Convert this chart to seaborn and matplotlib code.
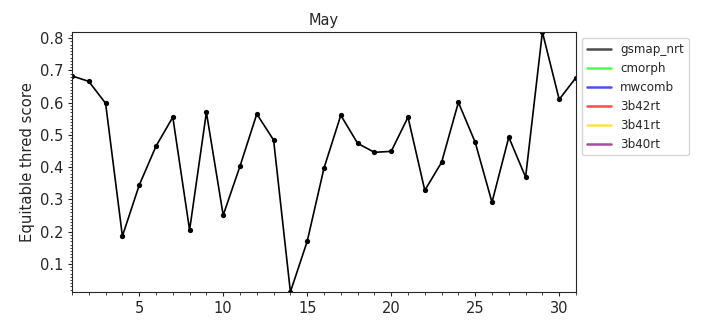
import matplotlib
matplotlib.use("Agg")
import matplotlib.pyplot as plt
import seaborn as sns
import pandas as pd
from matplotlib.ticker import MultipleLocator

days = list(range(1, 32))
gsmap_nrt = [0.683, 0.666, 0.598, 0.186, 0.344, 0.465, 0.555, 0.205, 0.570, 0.251,
             0.403, 0.565, 0.484, 0.013, 0.170, 0.397, 0.561, 0.474, 0.446, 0.449,
             0.555, 0.328, 0.415, 0.601, 0.477, 0.291, 0.493, 0.369, 0.819, 0.610, 0.678]
series_names = ["gsmap_nrt", "cmorph", "mwcomb", "3b42rt", "3b41rt", "3b40rt"]
series_colors = ["black", "lime", "blue", "red", "gold", "purple"]
empty_series = {"cmorph": [], "mwcomb": [], "3b42rt": [], "3b41rt": [], "3b40rt": []}

sns.set_style("ticks")
plt.rcParams['font.family'] = ['DejaVu Sans']

fig = plt.figure(figsize=(7.2, 3.24), dpi=100)
ax = fig.add_axes([0.1, 0.099, 0.7, 0.802])

df = pd.DataFrame({"day": days, "ets": gsmap_nrt})
sns.lineplot(data=df, x="day", y="ets", ax=ax, color="black", marker="o",
             markersize=3.8, markeredgewidth=0, linewidth=1.2, label="gsmap_nrt")
for name, col in zip(series_names[1:], series_colors[1:]):
    ax.plot(empty_series[name], empty_series[name], color=col, label=name)

ax.set_xlim(1, 31)
ax.set_ylim(min(gsmap_nrt), max(gsmap_nrt))
ax.xaxis.set_major_locator(MultipleLocator(5))
ax.xaxis.set_minor_locator(MultipleLocator(1))
ax.yaxis.set_major_locator(MultipleLocator(0.1))
ax.yaxis.set_minor_locator(MultipleLocator(0.01))
ax.tick_params(axis="both", which="major", labelsize=10.5, length=3.2, pad=3.2)
ax.tick_params(axis="both", which="minor", length=1.8)
for s in ax.spines.values():
    s.set_linewidth(0.8)
ax.set_xlabel("")
ax.set_ylabel("Equitable thred score", fontsize=10.7, labelpad=3.5)
ax.set_title("May", fontsize=10.5, pad=5)

leg = ax.legend(loc="upper left", bbox_to_anchor=(1.0, 1.0), fontsize=8.6,
                frameon=True, borderaxespad=0.5)
for line, col in zip(leg.get_lines(), series_colors):
    line.set_color(col)
    line.set_alpha(0.7)
    line.set_marker("")
    line.set_linewidth(1.8)

fig.savefig("out.png", dpi=100)
